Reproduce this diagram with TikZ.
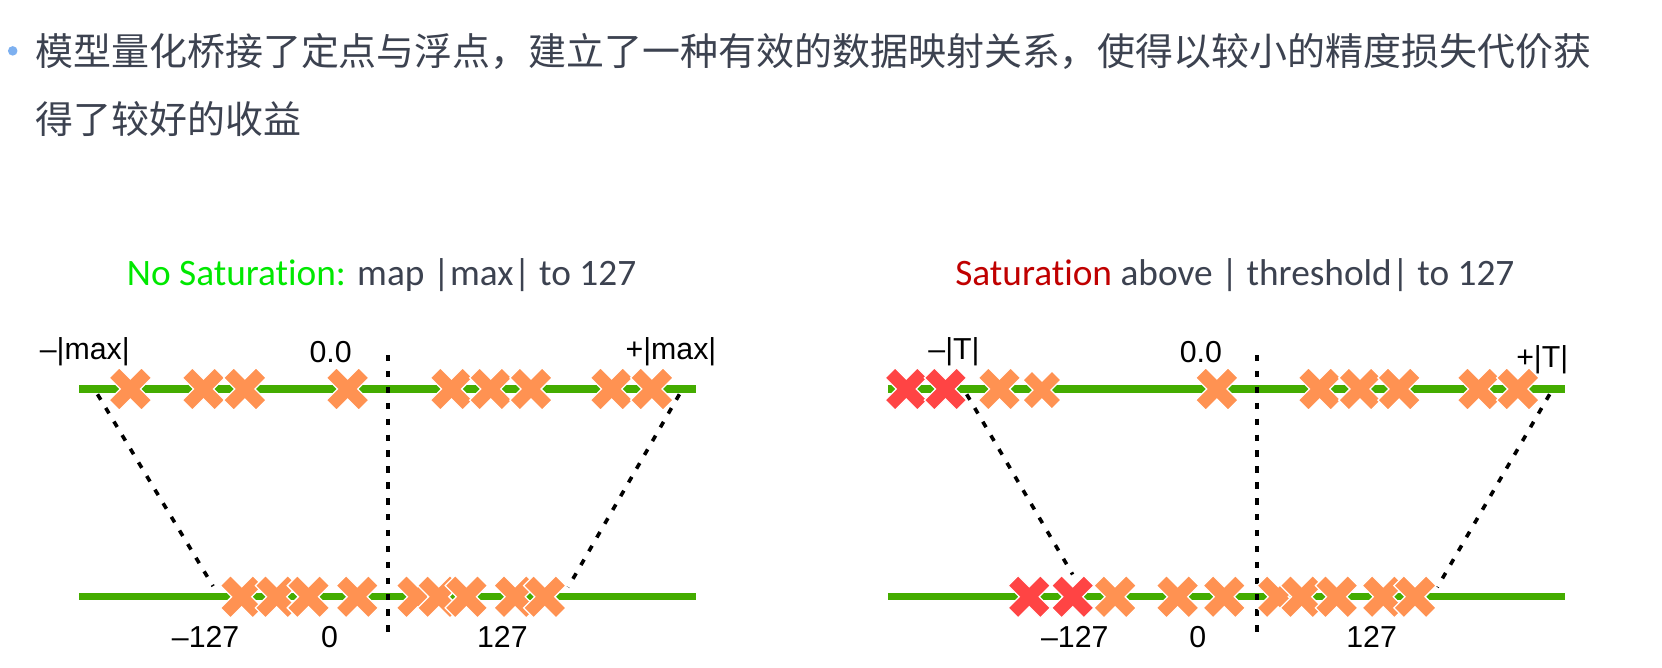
\documentclass[tikz,border=0pt]{standalone}
\usepackage{fontspec}
\setmainfont{Liberation Sans}
\newfontfamily\cjkfont{Noto Sans CJK SC}
\newfontfamily\titlefont[Ligatures=NoCommon]{Carlito}
\usetikzlibrary{calc}
\definecolor{lineGreen}{RGB}{68,172,0}
\definecolor{xOrange}{RGB}{255,146,82}
\definecolor{xRed}{RGB}{255,68,68}
\definecolor{satGreen}{RGB}{0,232,0}
\definecolor{satRed}{RGB}{192,0,0}
\definecolor{textGray}{RGB}{60,66,80}
\definecolor{bulletBlue}{RGB}{125,176,240}
\def\xmark[#1](#2){\filldraw[shift={(#2)}, draw=white, line width=0.6pt, #1] (0,9.5) -- (-10.5,20) -- (-20,10.5) -- (-9.5,0) -- (-20,-10.5) -- (-10.5,-20) -- (0,-9.5) -- (10.5,-20) -- (20,-10.5) -- (9.5,0) -- (20,10.5) -- (10.5,20) -- cycle;}
\tikzset{
  numline/.style={line width=3.5pt, color=lineGreen},
  mapline/.style={line width=1.7pt, dash pattern=on 3pt off 4.5pt},
  cjktext/.style={anchor=base west, inner sep=0pt, text=textGray, font=\cjkfont\fontsize{17.9}{32}\selectfont},
  ttl/.style={inner sep=0pt, text=textGray, font=\titlefont\fontsize{17.6}{20}\selectfont},
  lbl/.style={inner sep=0pt, font=\fontsize{14.3}{16}\selectfont}
}

\begin{document}
\begin{tikzpicture}[x=0.5pt, y=-0.5pt]
		%%%%% START %%%%%
		\useasboundingbox (0,0) rectangle (1568,630.2);
		\fill[white] (0,0) rectangle (1568,630.2);
		
		% bullet text
		\fill[bulletBlue] (12,48) circle (4.5);
		\node[cjktext] (lineOne) at (33,62) {模型量化桥接了定点与浮点，建立了一种有效的数据映射关系，使得以较小的精度损失代价获};
		\node[cjktext] (lineTwo) at (33,126) {得了较好的收益};
		
		% titles
		\node[ttl] (ttlNoSat) at (360,260) {\textcolor{satGreen}{No Saturation:} map |max| to 127};
		\node[ttl] (ttlSat) at (1165,260) {\textcolor{satRed}{Saturation} above | threshold| to 127};
		
		% left panel
		\coordinate (lTopW) at (75,367);
		\coordinate (lTopE) at (657,367);
		\coordinate (lBotW) at (75,563);
		\coordinate (lBotE) at (657,563);
		\coordinate (lMidT) at (366,335);
		\coordinate (lMidB) at (366,598);
		\coordinate (lMaxNeg) at (92,372);
		\coordinate (lMaxPos) at (641,372);
		\coordinate (lQNeg) at (201,553);
		\coordinate (lQPos) at (536,554);
		
		\draw[numline] (lTopW) -- (lTopE);
		\draw[numline] (lBotW) -- (lBotE);
		\draw[mapline] (lMidT) -- (lMidB);
		\draw[mapline] (lMaxNeg) -- (lQNeg);
		\draw[mapline] (lMaxPos) -- (lQPos);
		
		\xmark[fill=xOrange](123,367);
		\xmark[fill=xOrange](192,367);
		\xmark[fill=xOrange](231,367);
		\xmark[fill=xOrange](328,367);
		\xmark[fill=xOrange](426,367);
		\xmark[fill=xOrange](463,367);
		\xmark[fill=xOrange](501,367);
		\xmark[fill=xOrange](577,367);
		\xmark[fill=xOrange](615,367);
		
		\xmark[fill=xOrange](228,563);
		\xmark[fill=xOrange](261,563);
		\xmark[fill=xOrange](291,563);
		\xmark[fill=xOrange](337,563);
		\xmark[fill=xOrange](394,563);
		\xmark[fill=xOrange](414,563);
		\xmark[fill=xOrange](440,563);
		\xmark[fill=xOrange](486,563);
		\xmark[fill=xOrange](514,563);
		
		\node[lbl] (lLblMaxNeg) at (80,332) {–|max|};
		\node[lbl] (lLblZeroF) at (312,332) {0.0};
		\node[lbl] (lLblMaxPos) at (633,332) {+|max|};
		\node[lbl] (lLblNeg) at (194,601) {–127};
		\node[lbl] (lLblZero) at (311,601) {0};
		\node[lbl] (lLblPos) at (474,601) {127};
		
		% right panel
		\coordinate (rTopW) at (838,367);
		\coordinate (rTopE) at (1476,367);
		\coordinate (rBotW) at (838,563);
		\coordinate (rBotE) at (1476,563);
		\coordinate (rMidT) at (1186,335);
		\coordinate (rMidB) at (1186,598);
		\coordinate (rTNeg) at (912,372);
		\coordinate (rTPos) at (1462,372);
		\coordinate (rQNeg) at (1012,542);
		\coordinate (rQPos) at (1356,554);
		
		\draw[numline] (rTopW) -- (rTopE);
		\draw[numline] (rBotW) -- (rBotE);
		\draw[mapline] (rMidT) -- (rMidB);
		\draw[mapline] (rTNeg) -- (rQNeg);
		\draw[mapline] (rTPos) -- (rQPos);
		
		\xmark[fill=xRed](855,367);
		\xmark[fill=xRed](892,367);
		\xmark[fill=xOrange](943,367);
		\xmark[fill=xOrange, scale=0.9](983,368);
		\xmark[fill=xOrange](1148,367);
		\xmark[fill=xOrange](1245,367);
		\xmark[fill=xOrange](1283,367);
		\xmark[fill=xOrange](1320,367);
		\xmark[fill=xOrange](1395,367);
		\xmark[fill=xOrange](1432,367);
		
		\xmark[fill=xRed](971,563);
		\xmark[fill=xRed](1012,563);
		\xmark[fill=xOrange](1052,563);
		\xmark[fill=xOrange](1111,563);
		\xmark[fill=xOrange](1155,563);
		\xmark[fill=xOrange](1206,563);
		\xmark[fill=xOrange](1228,563);
		\xmark[fill=xOrange](1261,563);
		\xmark[fill=xOrange](1305,563);
		\xmark[fill=xOrange](1335,563);
		
		\node[lbl] (rLblTNeg) at (900,332) {–|T|};
		\node[lbl] (rLblZeroF) at (1133,332) {0.0};
		\node[lbl] (rLblTPos) at (1455,339) {+|T|};
		\node[lbl] (rLblNeg) at (1014,601) {–127};
		\node[lbl] (rLblZero) at (1130,601) {0};
		\node[lbl] (rLblPos) at (1294,601) {127};
		%%%%% END %%%%%
\end{tikzpicture}
\end{document}
